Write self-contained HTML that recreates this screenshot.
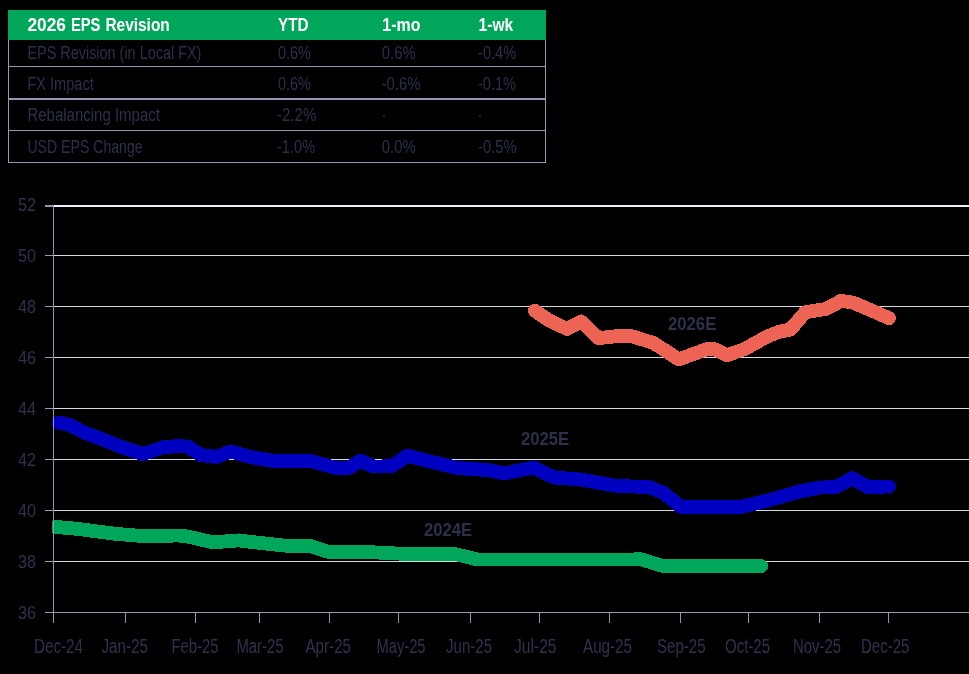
<!DOCTYPE html>
<html>
<head>
<meta charset="utf-8">
<title>2026 EPS Revision</title>
<style>
  html, body { margin: 0; padding: 0; background: #000; }
  body { width: 969px; height: 674px; overflow: hidden; font-family: "Liberation Sans", sans-serif; }
  svg { display: block; will-change: transform; }
  text { font-family: "Liberation Sans", sans-serif; fill: #2b2d48; }
  .hd { font-weight: bold; fill: #ffffff; font-size: 17.5px; }
  .td { font-size: 18px; fill: #2d304b; }
  .ax { font-size: 19.5px; fill: #2f324d; }
  .ay { font-size: 19px; fill: #2f324d; }
  .sl { font-size: 18px; font-weight: bold; fill: #2d3049; }
</style>
</head>
<body>
<svg width="969" height="674" viewBox="0 0 969 674">
  <defs><clipPath id="plotclip"><rect x="52" y="190" width="917" height="430"/></clipPath></defs>
  <rect x="0" y="0" width="969" height="674" fill="#000000"/>

  <!-- ===== table ===== -->
  <g id="table">
    <rect x="8" y="10" width="538" height="30" fill="#00a65a"/>
    <!-- borders -->
    <g fill="#9698b4">
      <rect x="8" y="40" width="1" height="123"/>
      <rect x="545" y="40" width="1" height="123"/>
      <rect x="8" y="66" width="538" height="1"/>
      <rect x="8" y="98" width="538" height="2"/>
      <rect x="8" y="130" width="538" height="1"/>
      <rect x="8" y="162" width="538" height="1"/>
    </g>
    <!-- header -->
    <text class="hd" x="27.4" y="30.5" textLength="38.6" lengthAdjust="spacingAndGlyphs">2026</text>
    <text class="hd" x="70.9" y="30.5" textLength="29.6" lengthAdjust="spacingAndGlyphs">EPS</text>
    <text class="hd" x="105.4" y="30.5" textLength="64.4" lengthAdjust="spacingAndGlyphs">Revision</text>
    <text class="hd" x="278" y="30.5" textLength="30.6" lengthAdjust="spacingAndGlyphs">YTD</text>
    <text class="hd" x="382.3" y="30.5" textLength="38.1" lengthAdjust="spacingAndGlyphs">1-mo</text>
    <text class="hd" x="478.6" y="30.5" textLength="34.7" lengthAdjust="spacingAndGlyphs">1-wk</text>
    <!-- row 1 -->
    <text class="td" x="27.4" y="58.8" textLength="174" lengthAdjust="spacingAndGlyphs">EPS Revision (in Local FX)</text>
    <text class="td" x="278" y="58.8" textLength="33" lengthAdjust="spacingAndGlyphs">0.6%</text>
    <text class="td" x="381.7" y="58.8" textLength="34" lengthAdjust="spacingAndGlyphs">0.6%</text>
    <text class="td" x="478" y="58.8" textLength="38.3" lengthAdjust="spacingAndGlyphs">-0.4%</text>
    <!-- row 2 -->
    <text class="td" x="27.4" y="90" textLength="66.4" lengthAdjust="spacingAndGlyphs">FX Impact</text>
    <text class="td" x="278" y="90" textLength="33" lengthAdjust="spacingAndGlyphs">0.6%</text>
    <text class="td" x="381.7" y="90" textLength="38.7" lengthAdjust="spacingAndGlyphs">-0.6%</text>
    <text class="td" x="478" y="90" textLength="38" lengthAdjust="spacingAndGlyphs">-0.1%</text>
    <!-- row 3 -->
    <text class="td" x="27.4" y="120.9" textLength="132.5" lengthAdjust="spacingAndGlyphs">Rebalancing Impact</text>
    <text class="td" x="277" y="120.9" textLength="39.3" lengthAdjust="spacingAndGlyphs">-2.2%</text>
    <text class="td" x="382.3" y="120.9" textLength="3.4" lengthAdjust="spacingAndGlyphs">-</text>
    <text class="td" x="478.3" y="120.9" textLength="3.4" lengthAdjust="spacingAndGlyphs">-</text>
    <!-- row 4 -->
    <text class="td" x="27.4" y="153.3" textLength="115.2" lengthAdjust="spacingAndGlyphs">USD EPS Change</text>
    <text class="td" x="277" y="153.3" textLength="38.1" lengthAdjust="spacingAndGlyphs">-1.0%</text>
    <text class="td" x="381.7" y="153.3" textLength="34" lengthAdjust="spacingAndGlyphs">0.0%</text>
    <text class="td" x="478" y="153.3" textLength="38.5" lengthAdjust="spacingAndGlyphs">-0.5%</text>
  </g>

  <!-- ===== chart ===== -->
  <g id="grid">
    <rect x="53" y="205" width="916" height="2" fill="#efeff5"/>
    <g fill="#d8d8df">
      <rect x="53" y="255" width="916" height="1"/>
      <rect x="53" y="306" width="916" height="1"/>
      <rect x="53" y="357" width="916" height="1"/>
      <rect x="53" y="408" width="916" height="1"/>
      <rect x="53" y="459" width="916" height="1"/>
      <rect x="53" y="510" width="916" height="1"/>
      <rect x="53" y="561" width="916" height="1"/>
    </g>
  </g>

  <!-- y labels -->
  <g id="ylabels">
    <text class="ay" x="18" y="211.3" textLength="18" lengthAdjust="spacingAndGlyphs">52</text>
    <text class="ay" x="18" y="262.3" textLength="18" lengthAdjust="spacingAndGlyphs">50</text>
    <text class="ay" x="18" y="313.3" textLength="18" lengthAdjust="spacingAndGlyphs">48</text>
    <text class="ay" x="18" y="364.3" textLength="18" lengthAdjust="spacingAndGlyphs">46</text>
    <text class="ay" x="18" y="415.3" textLength="18" lengthAdjust="spacingAndGlyphs">44</text>
    <text class="ay" x="18" y="466.3" textLength="18" lengthAdjust="spacingAndGlyphs">42</text>
    <text class="ay" x="18" y="517.3" textLength="18" lengthAdjust="spacingAndGlyphs">40</text>
    <text class="ay" x="18" y="568.3" textLength="18" lengthAdjust="spacingAndGlyphs">38</text>
    <text class="ay" x="18" y="619.3" textLength="18" lengthAdjust="spacingAndGlyphs">36</text>
  </g>

  <!-- x labels -->
  <g id="xlabels">
    <text class="ax" x="34" y="652.8" textLength="49" lengthAdjust="spacingAndGlyphs">Dec-24</text>
    <text class="ax" x="101.5" y="652.8" textLength="46.5" lengthAdjust="spacingAndGlyphs">Jan-25</text>
    <text class="ax" x="171.5" y="652.8" textLength="47" lengthAdjust="spacingAndGlyphs">Feb-25</text>
    <text class="ax" x="236.5" y="652.8" textLength="47" lengthAdjust="spacingAndGlyphs">Mar-25</text>
    <text class="ax" x="305.5" y="652.8" textLength="45.5" lengthAdjust="spacingAndGlyphs">Apr-25</text>
    <text class="ax" x="376.5" y="652.8" textLength="49" lengthAdjust="spacingAndGlyphs">May-25</text>
    <text class="ax" x="446" y="652.8" textLength="46" lengthAdjust="spacingAndGlyphs">Jun-25</text>
    <text class="ax" x="514" y="652.8" textLength="42.5" lengthAdjust="spacingAndGlyphs">Jul-25</text>
    <text class="ax" x="583" y="652.8" textLength="49" lengthAdjust="spacingAndGlyphs">Aug-25</text>
    <text class="ax" x="657" y="652.8" textLength="48.5" lengthAdjust="spacingAndGlyphs">Sep-25</text>
    <text class="ax" x="725" y="652.8" textLength="45" lengthAdjust="spacingAndGlyphs">Oct-25</text>
    <text class="ax" x="793" y="652.8" textLength="48" lengthAdjust="spacingAndGlyphs">Nov-25</text>
    <text class="ax" x="861" y="652.8" textLength="48.5" lengthAdjust="spacingAndGlyphs">Dec-25</text>
  </g>

  <!-- series -->
  <g fill="none" stroke-linecap="round" stroke-linejoin="round" stroke-width="13.8" clip-path="url(#plotclip)" shape-rendering="crispEdges">
    <polyline id="s2024" stroke="#00a65a" points="56,526.9 77,528.8 114.3,533.7 144,536.2 178.7,535.5 188.6,536.7 213.4,542.4 238.1,540.4 260,542.9 284.8,545.6 309.5,545.6 326.9,551.6 359.1,551.6 408.6,554.1 453.2,553.6 478,559.6 500,559.5 628.6,559.5 641,559.3 663.3,566.1 761.3,566.1"/>
    <polyline id="s2025" stroke="#0000c0" points="58.7,422.6 69.7,424.8 83.3,432.2 101.9,439.1 121.7,447.1 142.8,454 163.8,447.1 181.2,445.8 188.6,447 201,455 215.9,457 230.7,451.5 250.5,457 274.9,461.2 312,461.4 336.8,468.1 349,468 360.3,460.7 373.5,466.6 391.5,466.2 407.4,455.7 433.4,462.4 458.1,468.1 487.9,470.1 504.8,473.3 533.3,467.6 554.3,477.5 579.1,479.4 618.7,486.1 648.4,486.9 663.3,492.6 680.6,506.7 742.1,506.7 769.4,500 799.1,491.6 818.9,487.6 836.2,486.9 852.3,478.2 868.6,487.5 889,486.4"/>
    <polyline id="s2026" stroke="#ed6454" points="534.7,310.6 549.6,320.8 567,328.9 581.1,321.5 598.6,338.2 621.5,335.6 631.4,336.1 653.7,343.1 678.8,359.4 708.1,348.7 715.6,349.4 726.7,355.3 744.6,349.1 767.5,336.4 779.3,331.7 790.4,329.6 805.4,312.2 826.3,308.9 841.2,300.8 853.6,302.8 889,318.1"/>
  </g>

  <g id="axes" fill="#9698b2">
    <!-- y axis -->
    <rect x="53" y="205" width="1" height="418"/>
    <!-- x axis -->
    <rect x="45" y="612" width="924" height="1"/>
    <!-- y ticks -->
    <rect x="45" y="205" width="8" height="2"/>
    <rect x="45" y="255" width="8" height="1"/>
    <rect x="45" y="306" width="8" height="1"/>
    <rect x="45" y="357" width="8" height="1"/>
    <rect x="45" y="408" width="8" height="1"/>
    <rect x="45" y="459" width="8" height="1"/>
    <rect x="45" y="510" width="8" height="1"/>
    <rect x="45" y="561" width="8" height="1"/>
    <!-- x ticks -->
    <rect x="125" y="612" width="1" height="11"/>
    <rect x="195" y="612" width="1" height="11"/>
    <rect x="259" y="612" width="1" height="11"/>
    <rect x="329" y="612" width="1" height="11"/>
    <rect x="398" y="612" width="1" height="11"/>
    <rect x="470" y="612" width="1" height="11"/>
    <rect x="539" y="612" width="1" height="11"/>
    <rect x="609" y="612" width="1" height="11"/>
    <rect x="680" y="612" width="1" height="11"/>
    <rect x="748" y="612" width="1" height="11"/>
    <rect x="819" y="612" width="1" height="11"/>
    <rect x="888" y="612" width="1" height="11"/>
  </g>

  <!-- series labels -->
  <text class="sl" x="423.9" y="535.6" textLength="48.2" lengthAdjust="spacingAndGlyphs">2024E</text>
  <text class="sl" x="520.9" y="444.7" textLength="48.3" lengthAdjust="spacingAndGlyphs">2025E</text>
  <text class="sl" x="668" y="329.9" textLength="48.3" lengthAdjust="spacingAndGlyphs">2026E</text>
</svg>
</body>
</html>
